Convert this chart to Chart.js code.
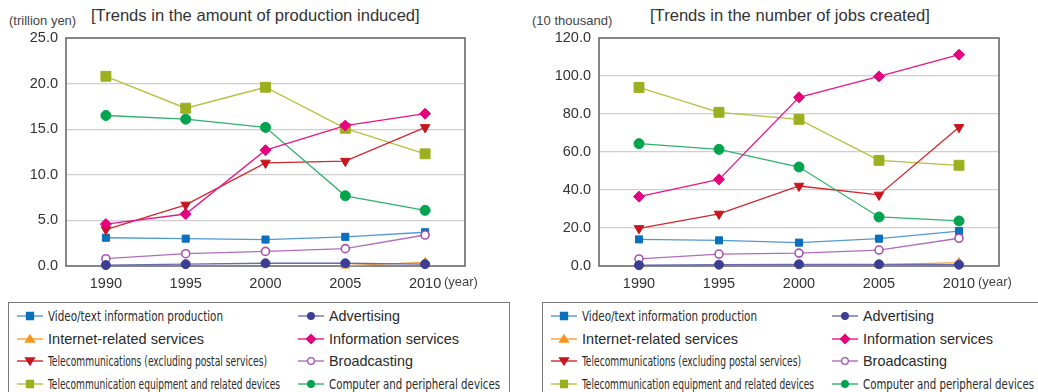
<!DOCTYPE html>
<html>
<head>
<meta charset="utf-8">
<script src="https://cdn.jsdelivr.net/npm/chart.js@4.4.0/dist/chart.umd.min.js"></script>
<style>
  body { margin: 0; width: 1038px; height: 392px; overflow: hidden; background: #fff;
         font-family: "Liberation Sans", Arial, sans-serif; color: #333; position: relative; }
  .abs { position: absolute; white-space: nowrap; }
  .title { font-size: 16.6px; color: #333; }
  .unit { font-size: 13px; color: #444; }
  .year { font-size: 13px; color: #444; }
  .legend { position: absolute; top: 302px; height: 120px; border: 1.5px solid #777; background: #fff; }
  .item { position: absolute; height: 20px; width: 240px; }
  .item canvas { position: absolute; left: 0; top: 2px; }
  .item span { position: absolute; left: 31px; top: 0; line-height: 20px; white-space: nowrap;
               transform-origin: 0 50%; color: #2a2a2a; }
  .narrow { font-family: "Liberation Sans Narrow", "DejaVu Sans Condensed", sans-serif; font-size: 14px; }
  .wide { font-size: 14.5px; }
</style>
</head>
<body>

<div class="abs unit" style="left:9px; top:13px;">(trillion yen)</div>
<div class="abs title" style="left:91px; top:6px;">[Trends in the amount of production induced]</div>
<div class="abs unit" style="left:532px; top:13px;">(10 thousand)</div>
<div class="abs title" style="left:650px; top:6px;">[Trends in the number of jobs created]</div>

<canvas id="production" class="abs" width="519" height="300" style="left:0; top:0;"></canvas>
<canvas id="jobs" class="abs" width="518" height="300" style="left:520px; top:0;"></canvas>

<div class="abs year" style="left:444px; top:274px;">(year)</div>
<div class="abs year" style="left:978px; top:274px;">(year)</div>

<div id="legendLeft" class="legend" style="left:8px; width:500px;"></div>
<div id="legendRight" class="legend" style="left:542px; width:520px;"></div>

<script>
const years = ["1990", "1995", "2000", "2005", "2010"];

// Amount of production induced (trillion yen)
const prodVideo       = [3.1, 3.0, 2.9, 3.2, 3.7];
const prodInternet    = [null, null, null, 0.05, 0.4];
const prodTelecom     = [4.0, 6.7, 11.3, 11.5, 15.2];
const prodEquipment   = [20.8, 17.3, 19.6, 15.1, 12.3];
const prodAdvertising = [0.1, 0.2, 0.3, 0.3, 0.2];
const prodInfo        = [4.6, 5.7, 12.7, 15.4, 16.7];
const prodBroadcast   = [0.8, 1.35, 1.6, 1.9, 3.4];
const prodComputer    = [16.5, 16.1, 15.2, 7.7, 6.1];

// Number of jobs created (10 thousand)
const jobsVideo       = [14.0, 13.5, 12.3, 14.4, 18.4];
const jobsInternet    = [null, null, null, 0.7, 1.8];
const jobsTelecom     = [19.8, 27.4, 42.1, 37.4, 73.0];
const jobsEquipment   = [94.0, 80.9, 77.2, 55.6, 53.0];
const jobsAdvertising = [0.4, 0.7, 0.9, 0.9, 0.7];
const jobsInfo        = [36.5, 45.6, 88.8, 99.8, 111.2];
const jobsBroadcast   = [3.7, 6.3, 6.8, 8.4, 14.6];
const jobsComputer    = [64.4, 61.4, 52.1, 25.8, 23.7];

const seriesNames = [
  "Video/text information production",
  "Internet-related services",
  "Telecommunications (excluding postal services)",
  "Telecommunication equipment and related devices",
  "Advertising",
  "Information services",
  "Broadcasting",
  "Computer and peripheral devices"
];

// look of each series, same index as seriesNames
const seriesStyles = [
  { line: "#4f9ad6", fill: "#0a6fbd", border: "#0a6fbd", point: "rect",     radius: 5,   rotation: 0,   order: 4, narrow: true },
  { line: "#f7a030", fill: "#f7941d", border: "#f7941d", point: "triangle", radius: 5,   rotation: 0,   order: 6, narrow: false },
  { line: "#d0262c", fill: "#c8161e", border: "#c8161e", point: "triangle", radius: 5.5, rotation: 180, order: 3, narrow: true },
  { line: "#b3c23c", fill: "#9bb01f", border: "#9bb01f", point: "rect",     radius: 7,   rotation: 0,   order: 5, narrow: true },
  { line: "#6a6cb0", fill: "#3b3e93", border: "#3b3e93", point: "circle",   radius: 4.5, rotation: 0,   order: 1, narrow: false },
  { line: "#e8168a", fill: "#e5007d", border: "#e5007d", point: "rectRot",  radius: 5.5, rotation: 0,   order: 0, narrow: false },
  { line: "#b06cbe", fill: "#ffffff", border: "#a453ad", point: "circle",   radius: 4,   rotation: 0,   order: 2, narrow: false },
  { line: "#2fb26a", fill: "#00a44f", border: "#00a44f", point: "circle",   radius: 5,   rotation: 0,   order: 2, narrow: true }
];

// legend label widths so both columns line up
const legendWidths = [175, 156, 219, 232, 71, 130, 84, 171];

const FONT = "'Liberation Sans', Arial, sans-serif";

function makeDatasets(values) {
  return values.map((data, i) => {
    const s = seriesStyles[i];
    return {
      label: seriesNames[i],
      data: data,
      borderColor: s.line,
      borderWidth: 1.3,
      pointStyle: s.point,
      pointRadius: s.radius,
      pointRotation: s.rotation,
      pointBackgroundColor: s.fill,
      pointBorderColor: s.border,
      pointBorderWidth: s.fill === "#ffffff" ? 1.6 : 1,
      order: s.order,
      clip: false,
      tension: 0
    };
  });
}

// dark frame round the plot area, under the markers
const plotFrame = {
  id: "plotFrame",
  beforeDatasetsDraw(chart) {
    const a = chart.chartArea;
    const ctx = chart.ctx;
    ctx.save();
    ctx.strokeStyle = "#6a6a6a";
    ctx.lineWidth = 1.6;
    ctx.strokeRect(a.left, a.top, a.right - a.left, a.bottom - a.top);
    ctx.restore();
  }
};

function drawChart(canvasId, values, yMax, yStep, axisWidth, padRight) {
  return new Chart(document.getElementById(canvasId), {
    type: "line",
    data: { labels: years, datasets: makeDatasets(values) },
    plugins: [plotFrame],
    options: {
      responsive: false,
      animation: false,
      layout: { padding: { top: 38, right: padRight, left: 0, bottom: 0 } },
      plugins: { legend: { display: false }, tooltip: { enabled: false } },
      scales: {
        x: {
          offset: true,
          grid: { display: false, drawTicks: false },
          border: { display: false },
          ticks: { padding: 9, color: "#333", font: { size: 14.5, family: FONT } },
          afterFit: (s) => { s.height = 34; }
        },
        y: {
          min: 0,
          max: yMax,
          ticks: {
            stepSize: yStep,
            padding: 8,
            color: "#333",
            font: { size: 14.5, family: FONT },
            callback: (v) => v.toFixed(1)
          },
          grid: {
            drawTicks: false,
            lineWidth: 1.3,
            color: (c) => (c.tick.value === 0 || c.tick.value === yMax) ? "rgba(0,0,0,0)" : "#cfcfcf"
          },
          border: { display: false },
          afterFit: (s) => { s.width = axisWidth; }
        }
      }
    }
  });
}

drawChart("production",
  [prodVideo, prodInternet, prodTelecom, prodEquipment, prodAdvertising, prodInfo, prodBroadcast, prodComputer],
  25, 5, 66, 54);

drawChart("jobs",
  [jobsVideo, jobsInternet, jobsTelecom, jobsEquipment, jobsAdvertising, jobsInfo, jobsBroadcast, jobsComputer],
  120, 20, 79, 39);

// small line + marker for a legend row
function drawLegendMark(canvas, s) {
  const ctx = canvas.getContext("2d");
  const cy = 8, cx = 13;
  ctx.strokeStyle = s.line;
  ctx.lineWidth = 1.4;
  ctx.beginPath();
  ctx.moveTo(0, cy);
  ctx.lineTo(26, cy);
  ctx.stroke();
  ctx.fillStyle = s.fill;
  ctx.strokeStyle = s.border;
  ctx.lineWidth = 1.3;
  ctx.beginPath();
  if (s.point === "rect") {
    ctx.rect(cx - 3.5, cy - 3.5, 7, 7);
  } else if (s.point === "circle") {
    ctx.arc(cx, cy, 3.3, 0, Math.PI * 2);
  } else if (s.point === "rectRot") {
    ctx.moveTo(cx, cy - 4.5); ctx.lineTo(cx + 4.5, cy); ctx.lineTo(cx, cy + 4.5); ctx.lineTo(cx - 4.5, cy);
    ctx.closePath();
  } else if (s.point === "triangle") {
    const d = s.rotation ? 1 : -1;
    ctx.moveTo(cx, cy + d * 4); ctx.lineTo(cx + 4.5, cy - d * 3); ctx.lineTo(cx - 4.5, cy - d * 3);
    ctx.closePath();
  }
  ctx.fill();
  ctx.stroke();
}

function buildLegend(boxId) {
  const box = document.getElementById(boxId);
  seriesNames.forEach((name, i) => {
    const s = seriesStyles[i];
    const col = Math.floor(i / 4), row = i % 4;
    const item = document.createElement("div");
    item.className = "item";
    item.style.left = (col === 0 ? 8 : 289) + "px";
    item.style.top = [3, 26, 48, 71][row] + "px";
    const c = document.createElement("canvas");
    c.width = 27; c.height = 16;
    drawLegendMark(c, s);
    const span = document.createElement("span");
    span.className = s.narrow ? "narrow" : "wide";
    span.textContent = name;
    item.appendChild(c);
    item.appendChild(span);
    box.appendChild(item);
    const w = span.getBoundingClientRect().width;
    if (w > 0) span.style.transform = "scaleX(" + (legendWidths[i] / w) + ")";
  });
}

buildLegend("legendLeft");
buildLegend("legendRight");
</script>
</body>
</html>
